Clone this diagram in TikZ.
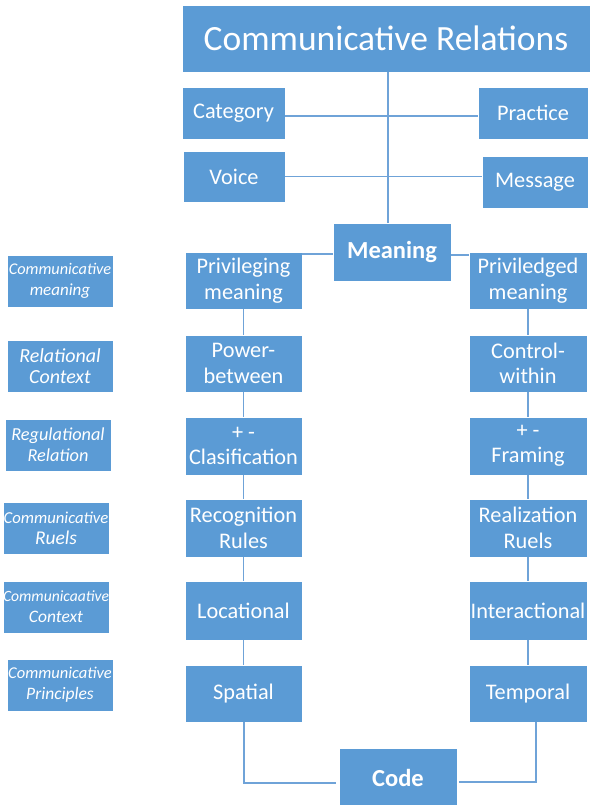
\documentclass[tikz,border=0pt]{standalone}
\usepackage{fontspec}
\setmainfont{Carlito}
\usetikzlibrary{calc}
\definecolor{boxblue}{HTML}{5B9BD5}
\definecolor{lineblue}{HTML}{6FA3D8}
\newcommand{\fs}[1]{\fontsize{#1}{1.2\dimexpr#1pt\relax}\selectfont}
\begin{document}
\begin{tikzpicture}[x=1pt,y=-1pt,
  box/.style={fill=boxblue, draw=white, line width=0.6pt, text=white, align=center,
              inner sep=0pt, font=\fontsize{22.3}{25.5}\selectfont},
  sz/.style 2 args={minimum width=#1pt, minimum height=#2pt},
  tag/.style={box, sz={106}{52}, font=\itshape\fontsize{16}{21}\selectfont},
  link/.style={draw=lineblue, line width=1.8pt}]
\useasboundingbox (0,0) rectangle (591,805);

% top part
\node[box, sz={408}{67}, font=\fontsize{35.5}{40}\selectfont] (title) at (386,38.5) {Communicative Relations};
\node[box, sz={103}{52}] (cat)   at (233.5,113) {Category};
\node[box, sz={110}{52}] (prac)  at (533,113)   {Practice};
\node[box, sz={102}{51}] (voice) at (234,176.5) {Voice};
\node[box, sz={106}{52}] (msg)   at (535,182)   {Message};
\node[box, sz={118}{58}, font=\bfseries\fontsize{24.5}{28}\selectfont] (meaning) at (392,252) {Meaning};

% left column
\node[box, sz={117}{57}] (privL)  at (243.5,280.5) {Privileging\\meaning};
\node[box, sz={117}{57}] (power)  at (243.5,363.5) {Power-\\between};
\node[box, sz={117}{58}] (clas)   at (243.5,446)   {+ -\\Clasification};
\node[box, sz={117}{58}] (recog)  at (243.5,528)   {Recognition\\Rules};
\node[box, sz={117}{59}] (loc)    at (243.5,610.5) {Locational};
\node[box, sz={117}{57}] (spat)   at (243.5,693.5) {Spatial};

% right column
\node[box, sz={118}{57}] (privR)  at (528,280.5) {Priviledged\\meaning};
\node[box, sz={118}{57}] (ctrl)   at (528,363.5) {Control-\\within};
\node[box, sz={118}{58}] (frame)  at (528,446)   {+ -\\Framing};
\node[box, sz={118}{58}] (real)   at (528,528)   {Realization\\Ruels};
\node[box, sz={118}{59}] (inter)  at (528,610.5) {Interactional};
\node[box, sz={118}{57}] (temp)   at (528,693.5) {Temporal};

\node[box, sz={118}{60}, font=\bfseries\fontsize{24.5}{28}\selectfont] (code) at (398,778) {Code};

% side tags
\node[tag] (t1) at (60,281)   {{\fs{16.3}Communicative}\\{\fs{17}meaning}};
\node[tag] (t2) at (60,366)   {{\fs{20}Relational}\\{\fs{20}Context}};
\node[tag] (t3) at (58,445)   {{\fs{18.3}Regulational}\\{\fs{18.3}Relation}};
\node[tag] (t4) at (56,528.5) {{\fs{16.7}Communicative}\\{\fs{19.5}Ruels}};
\node[tag] (t5) at (56,607)   {{\fs{15.6}Communicaative}\\{\fs{17.5}Context}};
\node[tag] (t6) at (60,685)   {{\fs{16.5}Communicative}\\{\fs{17.5}Principles}};

% connectors
\coordinate (trunk) at (388,72);
\draw[link] (trunk) -- (trunk |- meaning.north);
\draw[link] (cat.east) ++(0,3) coordinate (c1) -- (c1 -| prac.west);
\draw[link] (voice.east) -- (voice.east -| msg.west);
\draw[link] (meaning.west) ++(0,2) coordinate (m1) -- (m1 -| privL.east);
\draw[link] (meaning.east) ++(0,3) coordinate (m2) -- (m2 -| privR.west);

\draw[link] (privL) -- (power);
\draw[link] (power) -- (clas);
\draw[link] (clas) -- (recog);
\draw[link] (recog) -- (loc);
\draw[link] (loc) -- (spat);

\draw[link] (privR) -- (ctrl);
\draw[link] (ctrl) -- (frame);
\draw[link] (frame) -- (real);
\draw[link] (real) -- (inter);
\draw[link] (inter) -- (temp);

\coordinate (cl) at (244,783);
\coordinate (cr) at (536,782);
\draw[link] (cl |- spat.south) -- (cl) -- ($(cl -| code.west)+(-3,0)$);
\draw[link] (cr |- temp.south) -- (cr) -- ($(cr -| code.east)+(2,0)$);
\end{tikzpicture}
\end{document}
